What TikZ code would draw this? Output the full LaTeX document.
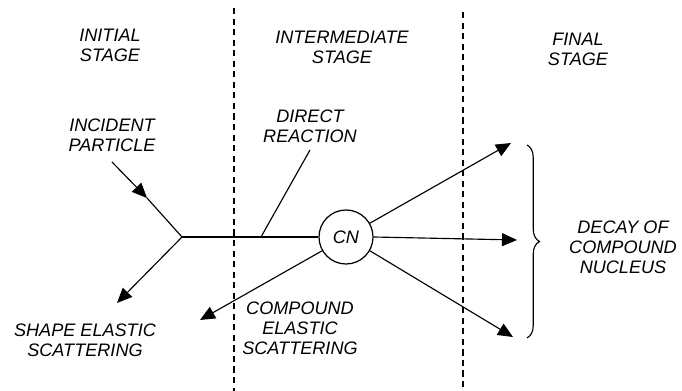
\documentclass[tikz,border=0pt]{standalone}
\usepackage{fontspec}
\setmainfont{Liberation Sans}
\usepackage{tikz}
\usetikzlibrary{arrows.meta, positioning, decorations.pathreplacing}

\begin{document}
\begin{tikzpicture}[
        label_text/.style={align=center, font=\fontsize{10.3}{11.4}\selectfont\itshape, inner sep=1pt},
        stage_line/.style={dashed, line width=0.8pt, dash pattern=on 3.5pt off 2.5pt},
        cn_circle/.style={circle, draw, line width=0.7pt, minimum size=1.08cm, inner sep=0pt, font=\fontsize{10.3}{11.4}\selectfont\itshape},
        path_line/.style={line width=0.65pt},
        arrow/.style={-{Triangle[length=0.3cm, width=0.26cm]}, line width=0.65pt}
    ]
    \useasboundingbox (0,0) rectangle (13.64,7.82);

    % stage boundaries
    \coordinate (div1_top) at (4.68,7.66);
    \coordinate (div1_bot) at (4.68,0);
    \coordinate (div2_top) at (9.26,7.58);
    \coordinate (div2_bot) at (9.26,0);
    \draw[stage_line] (div1_top) -- (div1_bot);
    \draw[stage_line] (div2_top) -- (div2_bot);

    % stage headings
    \node[label_text] (initial_stage) at (2.2,6.92) {INITIAL\\STAGE};
    \node[label_text] (intermediate_stage) at (6.84,6.88) {INTERMEDIATE\\STAGE};
    \node[label_text] (final_stage) at (11.56,6.84) {FINAL\\STAGE};

    % process labels
    \node[label_text] (incident_particle) at (2.24,5.12) {INCIDENT\\PARTICLE};
    \node[label_text] (direct_reaction) at (6.2,5.3) {DIRECT\\REACTION};
    \node[label_text] (shape_elastic) at (1.7,1.02) {SHAPE ELASTIC\\SCATTERING};
    \node[label_text] (compound_elastic) at (6.0,1.26) {COMPOUND\\ELASTIC\\SCATTERING};
    \node[label_text] (decay) at (12.46,2.88) {DECAY OF\\COMPOUND\\NUCLEUS};

    % compound nucleus
    \node[cn_circle] (cn) at (6.92,3.08) {CN};

    % path points
    \coordinate (incident_start) at (2.24,4.58);
    \coordinate (incident_tip) at (2.94,3.86);
    \coordinate (junction) at (3.64,3.08);
    \coordinate (shape_tip) at (2.34,1.76);
    \coordinate (direct_foot) at (5.22,3.08);
    \coordinate (direct_top) at (6.2,4.82);
    \coordinate (compound_tip) at (4.0,1.42);
    \coordinate (upper_tip) at (10.22,4.96);
    \coordinate (middle_tip) at (10.34,3.02);
    \coordinate (lower_tip) at (10.26,1.08);
    \coordinate (brace_top) at (10.54,4.92);
    \coordinate (brace_bot) at (10.54,1.06);

    % incoming particle and branches
    \draw[arrow] (incident_start) -- (incident_tip);
    \draw[path_line] (incident_tip) -- (junction);
    \draw[arrow] (junction) -- (shape_tip);
    \draw[path_line] (junction) -- (cn.west);
    \draw[path_line] (direct_foot) -- (direct_top);

    % decay of the compound nucleus
    \draw[arrow] (cn.210) -- (compound_tip);
    \draw[arrow] (cn.30) -- (upper_tip);
    \draw[arrow] (cn.east) -- (middle_tip);
    \draw[arrow] (cn.330) -- (lower_tip);

    \draw[path_line, decorate, decoration={brace, amplitude=0.25cm}] (brace_top) -- (brace_bot);
\end{tikzpicture}
\end{document}
